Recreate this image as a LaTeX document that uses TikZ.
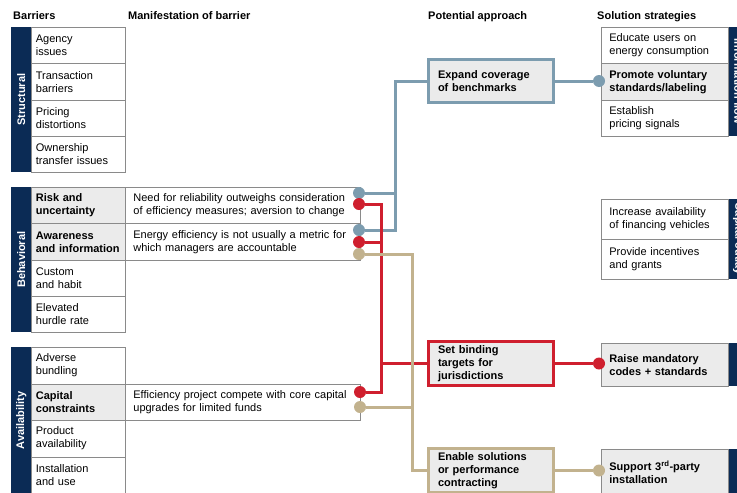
\documentclass[tikz,border=0pt]{standalone}
\usepackage{fontspec}
\setmainfont{Liberation Sans}
\definecolor{navy}{HTML}{0B2B55}
\definecolor{steel}{HTML}{7C9CAF}
\definecolor{crim}{HTML}{CF1F2E}
\definecolor{sand}{HTML}{C2B28E}
\definecolor{cellgray}{HTML}{EBEBEB}
\definecolor{linegray}{HTML}{8A8A8A}
\newcommand{\fs}{\fontsize{11}{13}\selectfont}
\tikzset{
  cell/.style={draw=linegray, line width=0.8pt, text width=85pt, inner xsep=4.5pt, inner ysep=0pt,
    minimum height=#1, anchor=north west, align=left, font=\fs},
  cell/.default=36.25pt,
  gcell/.style={cell=#1, fill=cellgray, font=\fs\bfseries},
  gcell/.default=36.25pt,
  mani/.style={draw=linegray, line width=0.8pt, text width=219pt, inner xsep=8pt, inner ysep=0pt,
    minimum height=#1, anchor=north west, align=left, font=\fs},
  mani/.default=36.25pt,
  sol/.style={draw=linegray, line width=0.8pt, text width=111pt, inner xsep=8pt, inner ysep=0pt,
    minimum height=#1, anchor=north west, align=left, font=\fs},
  gsol/.style={sol=#1, fill=cellgray, font=\fs\bfseries},
  appr/.style={draw=#1, line width=3pt, fill=cellgray, text width=106pt, inner xsep=9.5pt, inner ysep=1pt,
    anchor=north west, align=left, font=\fs\bfseries},
  navbar/.style={fill=navy, draw=none, anchor=north west, minimum width=20pt, inner sep=0pt, minimum height=#1},
  vlab/.style={text=white, font=\fs\bfseries, rotate=#1, inner sep=0pt},
  hdr/.style={font=\fs\bfseries, anchor=base west, inner sep=0pt},
  dot/.style={circle, fill=#1, draw=none, inner sep=0pt, minimum size=12pt},
  conn/.style={draw=#1, line width=3pt},
}
\begin{document}
\begin{tikzpicture}[x=1pt,y=-1pt]
\useasboundingbox (0,0) rectangle (737,493);
\clip (0,0) rectangle (737,493);

% headers
\node[hdr] (h1) at (13,19.5) {Barriers};
\node[hdr] (h2) at (128,19.5) {Manifestation of barrier};
\node[hdr] (h3) at (428,19.5) {Potential approach};
\node[hdr] (h4) at (597,19.5) {Solution strategies};

% Structural
\node[navbar=145pt] (sbar) at (11,27) {};
\node[vlab=90] at (sbar.center) {Structural};
\node[cell] (s1) at (31,27) {Agency\\issues};
\node[cell] (s2) at (31,63.25) {Transaction\\barriers};
\node[cell] (s3) at (31,99.5) {Pricing\\distortions};
\node[cell] (s4) at (31,135.75) {Ownership\\transfer issues};

% Behavioral
\node[navbar=145pt] (bbar) at (11,187) {};
\node[vlab=90] at (bbar.center) {Behavioral};
\node[gcell] (c1) at (31,187) {Risk and\\uncertainty};
\node[gcell] (c2) at (31,223.25) {Awareness\\and information};
\node[cell] (c3) at (31,259.5) {Custom\\and habit};
\node[cell] (c4) at (31,295.75) {Elevated\\hurdle rate};
\node[mani] (m1) at (125,187) {Need for reliability outweighs consideration\\of efficiency measures; aversion to change};
\node[mani] (m2) at (125,223.25) {Energy efficiency is not usually a metric for\\which managers are accountable};

% Availability
\node[navbar=146pt] (abar) at (11,347) {};
\node[vlab=90] at (abar.center) {Availability};
\node[cell=36.5pt] (a1) at (31,347) {Adverse\\bundling};
\node[gcell=36.5pt] (a2) at (31,383.5) {Capital\\constraints};
\node[cell=36.5pt] (a3) at (31,420) {Product\\availability};
\node[cell=36.5pt] (a4) at (31,456.5) {Installation\\and use};
\node[mani=36.5pt] (m3) at (125,383.5) {Efficiency project compete with core capital\\upgrades for limited funds};

% Potential approaches
\node[appr=steel, minimum height=43pt] (ex) at (427,58) {Expand coverage\\of benchmarks};
\node[appr=crim, minimum height=44pt] (sbind) at (427,340) {Set binding\\targets for\\jurisdictions};
\node[appr=sand, minimum height=44pt] (en) at (427,447) {Enable solutions\\or performance\\contracting};

% Solution strategies
\node[navbar=109pt] (ibar) at (728,27) {};
\node[vlab=-90] at (738.3,81.5) {Information flow};
\node[sol=36.3pt] (i1) at (601,27) {Educate users on\\energy consumption};
\node[gsol=36.4pt] (i2) at (601,63.3) {Promote voluntary\\standards/labeling};
\node[sol=36.3pt] (i3) at (601,99.7) {Establish\\pricing signals};

\node[navbar=80pt] (kbar) at (728,199) {};
\node[vlab=-90] at (738.3,239) {Capital outlay};
\node[sol=40pt] (k1) at (601,199) {Increase availability\\of financing vehicles};
\node[sol=40pt] (k2) at (601,239) {Provide incentives\\and grants};

\node[navbar=43pt] (rbar) at (728,343) {};
\node[gsol=43pt] (rm) at (601,343) {Raise mandatory\\codes + standards};

\node[navbar=47pt] (pbar) at (728,449) {};
\node[gsol=46pt] (sp) at (601,449) {Support 3\textsuperscript{rd}-party\\installation};

% junction columns
\coordinate (jb) at (395.5,0);
\coordinate (jr) at (381.5,0);
\coordinate (jt) at (412,0);
\coordinate (sx) at (599,0);

% dots at manifestations
\node[dot=steel] (b1) at (359,193) {};
\node[dot=crim] (r1) at (359,204) {};
\node[dot=steel] (b2) at (359,230) {};
\node[dot=crim] (r2) at (359,242) {};
\node[dot=sand] (t1) at (359,254) {};
\node[dot=crim] (r3) at (360,392) {};
\node[dot=sand] (t2) at (360,407) {};

% dots at solutions
\node[dot=steel] (db) at (ex.east -| sx) {};
\node[dot=crim] (dr) at (sbind.east -| sx) {};
\node[dot=sand] (dt) at (en.east -| sx) {};

% connectors
\draw[conn=steel] (b2.east) -| (jb |- ex.west) -- (ex.west);
\draw[conn=steel] (b1.east) -- (b1 -| jb);
\draw[conn=steel] (ex.east) -- (db.west);

\draw[conn=crim] (r1.east) -| (jr |- r3) -- (r3.east);
\draw[conn=crim] (r2.east) -- (r2 -| jr);
\draw[conn=crim] (jr |- sbind.west) -- (sbind.west);
\draw[conn=crim] (sbind.east) -- (dr.west);

\draw[conn=sand] (t1.east) -| (jt |- en.west) -- (en.west);
\draw[conn=sand] (t2.east) -- (t2 -| jt);
\draw[conn=sand] (en.east) -- (dt.west);
\end{tikzpicture}
\end{document}
